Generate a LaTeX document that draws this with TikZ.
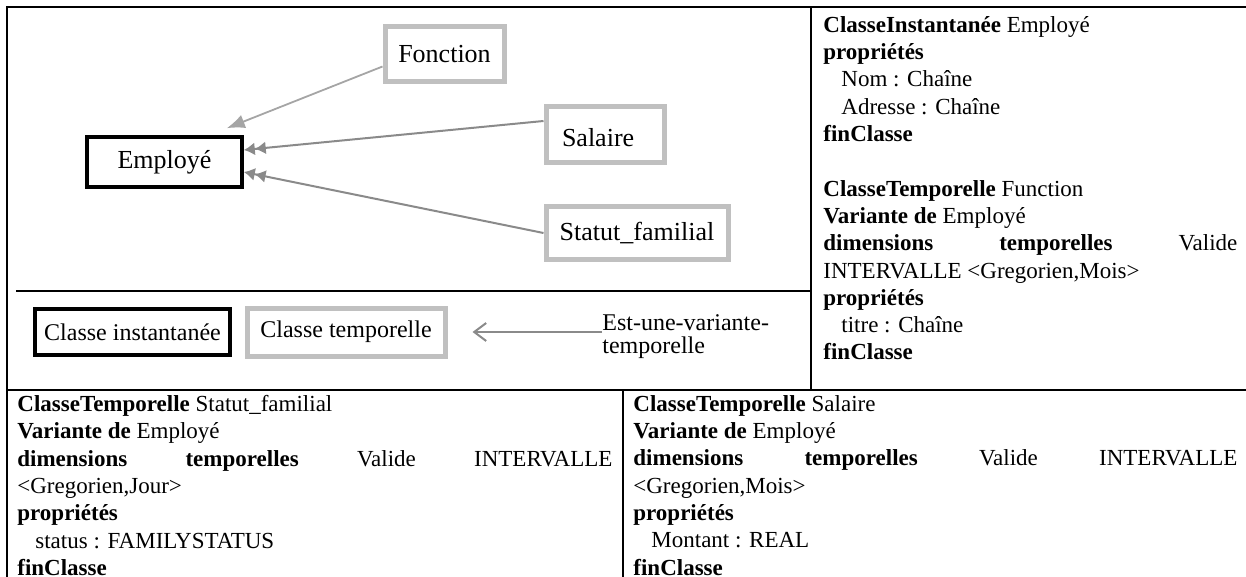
\documentclass[tikz,border=0pt]{standalone}
\usepackage{fontspec}
\setmainfont{Liberation Serif}
\usetikzlibrary{arrows.meta,calc}
\definecolor{gridclr}{RGB}{0,0,0}
\definecolor{tmpbdr}{RGB}{192,192,192}
\definecolor{lnkclr}{RGB}{138,138,138}
\definecolor{lnkclrlt}{RGB}{165,165,165}
\newcommand{\propind}{\hspace*{9pt}}
\tikzset{
  instblk/.style={rectangle,draw=black,line width=1.8pt,fill=white,
    minimum width=77.5pt,minimum height=25pt,
    font=\fontsize{13}{15}\selectfont,inner sep=2pt},
  tmpblk/.style={rectangle,draw=tmpbdr,line width=2.5pt,fill=white,
    minimum height=27pt,font=\fontsize{13}{15}\selectfont,inner sep=2pt},
  legfont/.style={font=\fontsize{12}{11.5}\selectfont},
  varr/.style={-{Latex[length=9pt,width=7pt]},line width=0.9pt,color=lnkclrlt},
  dvarr/.style={-{Latex[length=5.5pt,width=6.5pt]Latex[length=5.5pt,width=6.5pt]},
    line width=1pt,color=lnkclr},
  legarr/.style={-{Straight Barb[length=6pt,width=9pt]},line width=1pt,color=lnkclr},
  cell/.style={anchor=north west,inner sep=0pt,align=justify,
    font=\fontsize{11.5}{13.65}\selectfont},
  grid/.style={line width=1.3pt,draw=gridclr},
}

\begin{document}
\begin{tikzpicture}[x=0.5pt,y=-0.5pt]

  \useasboundingbox (0,0) rectangle (1246,577);

  % table frame
  \draw[grid] (1250,7) -- (7,7) -- (7,580);
  \draw[grid] (811,7) -- (811,390);
  \draw[grid] (16,291) -- (811,291);
  \draw[grid] (7,390) -- (1250,390);
  \draw[grid] (623,390) -- (623,580);

  % class graph
  \node[instblk] (employe) at (164.5,162) {Employé};
  \node[tmpblk,minimum width=59.5pt,minimum height=27.5pt] (fonction) at (444.5,54.5) {Fonction};
  \node[tmpblk,minimum height=28pt,text width=43pt,inner xsep=8pt,align=left,
        text height=12pt] (salaire) at (605,135) {Salaire};
  \node[tmpblk,minimum width=91pt,minimum height=26pt] (statut) at (637,233) {Statut\_familial};

  \draw[varr]  ([yshift=-6pt]fonction.west) -- ($(employe.north east)+(-17,-7)$);
  \draw[dvarr] ([yshift=7pt]salaire.west)   -- ([yshift=6pt]employe.east);
  \draw[dvarr] (statut.west)                -- ([yshift=-5pt]employe.east);

  % legend
  \node[instblk,legfont,minimum width=97.5pt,minimum height=23pt] (cinst) at (132.5,332) {Classe instantanée};
  \node[tmpblk,legfont,minimum width=99pt,minimum height=24pt]    (ctemp) at (346,332)   {Classe temporelle};
  \node[legfont,anchor=west,inner sep=0pt,align=left] (varlbl) at (602,337) {Est-une-variante-\\temporelle};
  \draw[legarr] ([yshift=2.5pt]varlbl.west) -- ($(ctemp.east)+(25,0)$);

  % class definitions
  \node[cell,text width=207pt] (defemp) at (823,16) {%
    \textbf{ClasseInstantanée} Employé\\
    \textbf{propriétés}\\
    \propind Nom : Chaîne\\
    \propind Adresse : Chaîne\\
    \textbf{finClasse}\\[13.65pt]
    \textbf{ClasseTemporelle} Function\\
    \textbf{Variante de} Employé\\
    \textbf{dimensions temporelles} Valide\linebreak INTERVALLE <Gregorien,Mois>\\
    \textbf{propriétés}\\
    \propind titre : Chaîne\\
    \textbf{finClasse}};
  \node[cell,text width=297.5pt] (defstat) at (17,395) {%
    \textbf{ClasseTemporelle} Statut\_familial\\
    \textbf{Variante de} Employé\\
    \textbf{dimensions temporelles} Valide INTERVALLE\linebreak <Gregorien,Jour>\\
    \textbf{propriétés}\\
    \propind status : FAMILYSTATUS\\
    \textbf{finClasse}};
  \node[cell,text width=302pt] (defsal) at (633,395) {%
    \textbf{ClasseTemporelle} Salaire\\
    \textbf{Variante de} Employé\\
    \textbf{dimensions temporelles} Valide INTERVALLE\linebreak <Gregorien,Mois>\\
    \textbf{propriétés}\\
    \propind Montant : REAL\\
    \textbf{finClasse}};

\end{tikzpicture}
\end{document}
